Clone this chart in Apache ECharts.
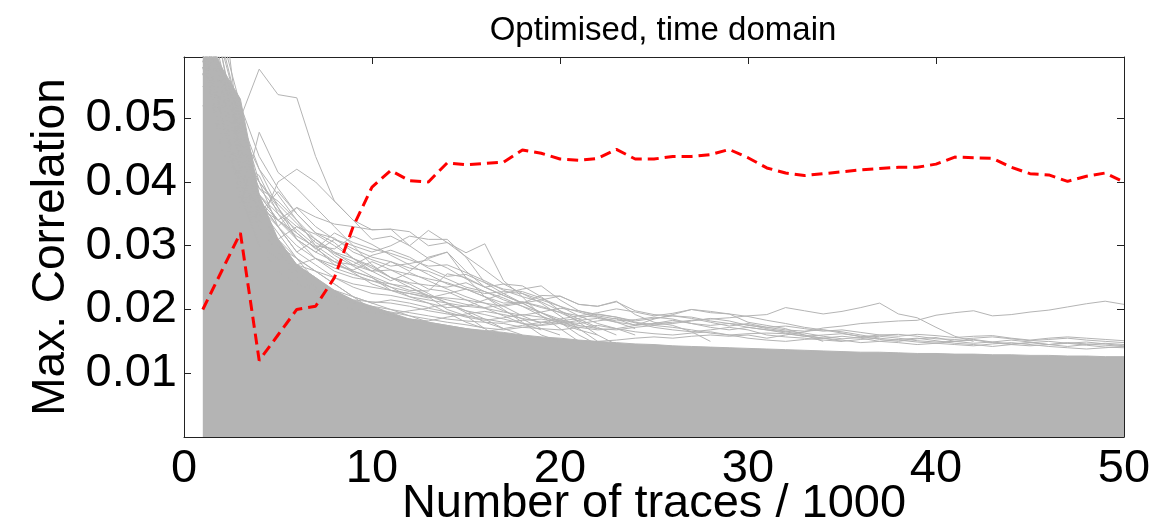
<!DOCTYPE html>
<html>
<head>
<meta charset="utf-8">
<script src="https://cdn.jsdelivr.net/npm/echarts@6/dist/echarts.min.js"></script>
<style>
html,body{margin:0;padding:0;background:#fff;}
#chart{width:1170px;height:530px;}
</style>
</head>
<body>
<div id="chart"></div>
<script>
// x positions: number of traces / 1000
const traceK = [1,2,3,4,5,6,7,8,9,10,11,12,13,14,15,16,17,18,19,20,21,22,23,24,25,26,27,28,29,30,31,32,33,34,35,36,37,38,39,40,41,42,43,44,45,46,47,48,49,50];

// correct key hypothesis (red dashed)
const correctKey = [0.020,0.026,0.032,0.012,0.016,0.020,0.0205,0.025,0.033,0.0392,
  0.0418,0.0402,0.0400,0.0430,0.0427,0.0429,0.0431,0.0450,0.0445,0.0436,
  0.0434,0.0437,0.0451,0.0436,0.0436,0.0440,0.0440,0.0443,0.0451,0.0438,
  0.0422,0.0414,0.0410,0.0413,0.0416,0.0419,0.0421,0.0423,0.0423,0.0428,
  0.0439,0.0438,0.0437,0.0423,0.0413,0.0411,0.0401,0.0409,0.0414,0.0400];

// upper edge of the dense (solid) mass of wrong-key traces
const denseCore = [0.065,0.058,0.053,0.038,0.031,0.027,0.025,0.023,0.0215,0.0205,
  0.0195,0.0185,0.018,0.0175,0.017,0.0167,0.0164,0.016,0.0157,0.0155,
  0.0152,0.015,0.0148,0.0146,0.0145,0.0143,0.0142,0.0141,0.014,0.0139,
  0.0138,0.0137,0.0136,0.0135,0.0134,0.0133,0.0133,0.0132,0.0131,0.0131,
  0.013,0.013,0.0129,0.0129,0.0128,0.0128,0.0127,0.0127,0.0126,0.0126];

// individual wrong-key traces (values from x = 1 onward)
const wkA = [0.075,0.062,0.050,0.0577,0.0537,0.0532,0.044,0.037,0.034,0.031,0.0315,0.030,0.028,0.029,0.025,0.022,0.020,0.018,0.016,0.015];
const wkB = [0.07,0.055,0.036,0.0478,0.0415,0.039,0.036,0.033,0.030,0.027,0.025,0.0235,0.022,0.020,0.019,0.017,0.015];
const wkC = [0.065,0.05,0.038,0.033,0.040,0.042,0.040,0.037,0.034,0.0325,0.0326,0.030,0.0324,0.0305,0.0289,0.0303,0.0245,0.022,0.019,0.017,0.015];
const wkE = [0.06,0.045,0.040,0.036,0.034,0.036,0.0345,0.0334,0.033,0.0325,0.0326,0.0322,0.030,0.0305,0.0283,0.0262,0.024,0.0225,0.021,0.019,0.017,0.015];
const wkF = [0.058,0.048,0.044,0.038,0.035,0.031,0.029,0.031,0.030,0.029,0.030,0.0315,0.0310,0.031,0.0282,0.0242,0.0225,0.021,0.0195,0.018,0.016,0.0145];
const wkG = [0.055,0.05,0.042,0.035,0.031,0.033,0.031,0.029,0.027,0.026,0.0275,0.026,0.0282,0.029,0.026,0.0235,0.024,0.0237,0.022,0.0198,0.018,0.016,0.0145];
const wkH = [0.052,0.046,0.039,0.032,0.030,0.027,0.028,0.026,0.025,0.0245,0.024,0.023,0.0229,0.0256,0.025,0.0235,0.0222,0.021,0.0222,0.0221,0.0208,0.0205,0.0213,0.0192,0.018,0.0175,0.0165,0.015];
const wkI = [0.057,0.047,0.041,0.037,0.033,0.030,0.028,0.027,0.026,0.025,0.023,0.022,0.0215,0.021,0.0205,0.0215,0.0225,0.0232,0.0237,0.0215,0.0198,0.019,0.0185,0.0175,0.0185,0.0192,0.020,0.0195,0.0193,0.018,0.0175,0.017,0.016,0.015];
const wkT = [0.06,0.05,0.04,0.03,0.026,0.024,0.023,0.022,0.021,0.020,0.019,0.0185,0.018,0.0175,0.017,0.0165,0.017,0.0175,0.018,0.0178,
  0.0172,0.0168,0.017,0.0175,0.0178,0.018,0.0183,0.0185,0.0187,0.019,0.0192,0.0203,0.0198,0.0193,0.0197,0.0203,0.021,0.0193,0.0187,0.0172,0.0158,0.015];
const wkR = [0.058,0.046,0.037,0.029,0.025,0.022,0.02,0.019,0.018,0.0172,0.0168,0.0164,0.016,0.0158,0.0155,0.0153,0.015,0.0148,0.0147,0.0146,
  0.0148,0.015,0.0152,0.0155,0.0157,0.0155,0.0158,0.016,0.0158,0.016,0.0155,0.016,0.0165,0.0171,0.0174,0.0178,0.018,0.0182,0.0183,0.0191,
  0.0195,0.0198,0.019,0.0192,0.0196,0.0199,0.0204,0.0209,0.0213,0.0208];
const wkM1 = [0.06,0.05,0.04,0.033,0.029,0.027,0.026,0.025,0.024,0.0235,0.023,0.0225,0.022,0.0218,0.0215,0.021,0.0205,0.021,0.0215,0.0221,
  0.0208,0.0205,0.0212,0.0198,0.0192,0.019,0.0188,0.0182,0.0178,0.0172,0.0168,0.0165,0.016,0.0155,0.015];
const wkM2 = [0.063,0.054,0.045,0.038,0.034,0.031,0.028,0.0265,0.0255,0.0245,0.0235,0.0228,0.0222,0.0215,0.0208,0.0203,0.0207,0.0212,0.0203,0.0196,
  0.019,0.0195,0.0201,0.0196,0.019,0.0194,0.02,0.0197,0.0193,0.0189,0.0183,0.0178,0.0172,0.0168,0.0165,0.016,0.0155];
const wkN1 = [0.07,0.058,0.045,0.039,0.037,0.034,0.031,0.029,0.028,0.0265,0.025,0.024,0.0225,0.021,0.0195,0.018,0.017,0.016];
const wkN2 = [0.066,0.05,0.041,0.035,0.0385,0.035,0.032,0.0305,0.028,0.026,0.0245,0.0258,0.0245,0.0232,0.022,0.021,0.0198,0.0185,0.017,0.016];
const wkN3 = [0.06,0.047,0.04,0.036,0.033,0.036,0.033,0.031,0.0295,0.0282,0.0275,0.0265,0.026,0.0248,0.0235,0.0228,0.0218,0.0205,0.019,0.0178,0.0168,0.016];
const wkN4 = [0.068,0.06,0.046,0.04,0.036,0.032,0.0295,0.032,0.0305,0.0295,0.0288,0.0278,0.0268,0.027,0.0258,0.0245,0.023,0.022,0.0212,0.0198,0.0185,0.0172,0.016];
const wkN5 = [0.072,0.061,0.05,0.042,0.036,0.031,0.029,0.0275,0.027,0.0285,0.0293,0.0282,0.0265,0.0252,0.0255,0.0242,0.0232,0.0228,0.0218,0.0205,0.019,0.0178,0.017,0.016];
const wkN6 = [0.08,0.07,0.046,0.035,0.031,0.028,0.026,0.024,0.022,0.021,0.02,0.019,0.018];
const wkP1 = [0.07,0.055,0.048,0.042,0.038,0.034,0.03,0.028,0.026,0.025,0.0235,0.022,0.021,0.0195,0.018,0.017];
const wkP2 = [0.062,0.058,0.05,0.04,0.033,0.029,0.031,0.0285,0.0268,0.0252,0.024,0.0235,0.0222,0.021,0.0198,0.0185,0.017];
const wkP3 = [0.066,0.052,0.047,0.038,0.034,0.0315,0.0298,0.027,0.0262,0.0275,0.0262,0.0248,0.0232,0.0228,0.0215,0.0202,0.019,0.0178,0.0168];
const wkP4 = [0.059,0.051,0.043,0.041,0.035,0.0325,0.03,0.0295,0.0315,0.0302,0.0285,0.027,0.0255,0.024,0.0232,0.022,0.0205,0.019,0.0178];
const wkP5 = [0.075,0.063,0.052,0.044,0.039,0.035,0.032,0.0312,0.029,0.0278,0.0268,0.0272,0.0278,0.0265,0.0248,0.0235,0.0222,0.021,0.0195,0.0182,0.017];
const wkP6 = [0.064,0.057,0.046,0.039,0.0355,0.033,0.0318,0.03,0.028,0.0268,0.025,0.0242,0.0238,0.0235,0.0242,0.0228,0.0215,0.0205,0.0195,0.0185,0.0175];
const wkP7 = [0.061,0.056,0.049,0.037,0.034,0.032,0.0296,0.0275,0.0258,0.024,0.023,0.0225,0.0218,0.0225,0.0232,0.022,0.021,0.0212,0.0205,0.0195,0.0182,0.017];
const wkP8 = [0.07,0.06,0.044,0.04,0.0365,0.0335,0.0305,0.0288,0.0275,0.026,0.0262,0.0255,0.0248,0.0242,0.0232,0.0225,0.0228,0.0225,0.0215,0.0205,0.0196,0.0188,0.018,0.017];
const wkB1 = [0.06,0.05,0.042,0.033,0.029,0.026,0.0235,0.022,0.021,0.0205,0.020,0.0195,0.019,0.0185,0.0182,0.018,0.0178,0.0172,0.017,0.0168,
  0.0172,0.0175,0.017,0.0165,0.0162,0.016,0.0163,0.0165,0.016,0.0155,0.0152,0.015,0.0153,0.0155,0.0158,0.0155,0.015,0.0148,0.0145,0.0147,
  0.015,0.0152,0.0148,0.0145,0.0143,0.0145,0.0148,0.0146,0.0144,0.0142];
const wkB2 = [0.058,0.053,0.04,0.035,0.031,0.027,0.025,0.0225,0.0215,0.0212,0.021,0.0205,0.0198,0.0193,0.019,0.0185,0.018,0.0183,0.0185,0.018,
  0.0175,0.017,0.0168,0.0172,0.0175,0.0172,0.0168,0.0163,0.016,0.0162,0.0163,0.0162,0.0158,0.0155,0.0152,0.0148,0.015,0.0153,0.0155,0.0151,
  0.0147,0.0145,0.0142,0.0145,0.0148,0.0145,0.0142,0.0145,0.0147,0.0145];
const wkB3 = [0.062,0.05,0.038,0.03,0.028,0.025,0.023,0.021,0.02,0.0195,0.0193,0.0198,0.0202,0.0196,0.0188,0.0183,0.0187,0.0192,0.0188,0.0182,
  0.0178,0.0182,0.0186,0.0179,0.0172,0.0168,0.0165,0.0168,0.0172,0.0168,0.016,0.0157,0.0155,0.0152,0.015,0.0153,0.0155,0.0152,0.0149,0.0147,
  0.0145,0.0143,0.0146,0.0148,0.0145,0.0142,0.014,0.0138,0.014,0.0142];
const wkB4 = [0.064,0.055,0.043,0.034,0.03,0.028,0.026,0.024,0.022,0.021,0.0215,0.021,0.0203,0.0208,0.0198,0.0192,0.0185,0.0178,0.0175,0.0178,
  0.0183,0.0186,0.018,0.0176,0.0178,0.0183,0.0178,0.0172,0.0168,0.0172,0.0168,0.0163,0.0158,0.016,0.0162,0.0158,0.0153,0.015,0.0154,0.0156,
  0.015,0.0147,0.0149,0.0152,0.0149,0.0145,0.0147,0.0149,0.0146,0.0143];
const wkB5 = [0.057,0.049,0.041,0.036,0.032,0.028,0.0245,0.0225,0.021,0.02,0.019,0.0185,0.0182,0.0188,0.0193,0.0197,0.0192,0.0186,0.018,0.0185,
  0.019,0.0188,0.0182,0.0184,0.0188,0.0185,0.0178,0.0175,0.0178,0.0176,0.017,0.0166,0.0163,0.0158,0.0154,0.0156,0.0158,0.0155,0.0151,0.0149,
  0.015,0.0153,0.0149,0.0146,0.0148,0.015,0.0147,0.0144,0.0141,0.014];
const wkB6 = [0.061,0.052,0.044,0.037,0.033,0.029,0.027,0.025,0.0235,0.0225,0.0222,0.0216,0.021,0.0203,0.0205,0.0202,0.0196,0.0191,0.0196,0.0202,
  0.0198,0.0192,0.0188,0.0182,0.0186,0.019,0.0186,0.018,0.0174,0.0178,0.0172,0.0168,0.0166,0.0168,0.0163,0.0157,0.016,0.0161,0.0158,0.0154,
  0.0153,0.0155,0.0157,0.0154,0.0151,0.0153,0.0155,0.0152,0.015,0.0148];
const wkB7 = [0.059,0.05,0.039,0.031,0.027,0.025,0.024,0.023,0.022,0.02,0.0196,0.019,0.0185,0.018,0.0176,0.0171,0.0168,0.0172,0.0176,0.0182,
  0.0186,0.0193,0.0188,0.018,0.0176,0.0178,0.0182,0.0186,0.0182,0.0175,0.0172,0.0174,0.017,0.0166,0.0168,0.0164,0.016,0.0158,0.0161,0.0159,
  0.0156,0.0158,0.0159,0.0155,0.0152,0.0155,0.0157,0.0155,0.0153,0.0151];

const wrongKeyTraces = [wkB1,wkB2,wkB3,wkB4,wkB5,wkB6,wkB7,wkR,wkT,wkM1,wkM2,wkI,wkH,wkG,wkF,wkE,wkC,wkB,wkA,
  wkN1,wkN2,wkN3,wkN4,wkN5,wkN6,wkP1,wkP2,wkP3,wkP4,wkP5,wkP6,wkP7,wkP8];

const xTickLabels = ['0','10','20','30','40','50'];
const yTickLabels = ['0.01','0.02','0.03','0.04','0.05'];

const GRAY = '#b4b4b4';
const FONT = "'Liberation Sans', Arial, Helvetica, sans-serif";
const pair = arr => arr.map((v, i) => [traceK[i], v]);

const series = [];
series.push({
  type: 'line', data: pair(denseCore), symbol: 'none', silent: true,
  lineStyle: { color: GRAY, width: 1 }, areaStyle: { color: GRAY, opacity: 1 },
  z: 1, animation: false
});
wrongKeyTraces.forEach(tr => series.push({
  type: 'line', data: pair(tr), symbol: 'none', silent: true,
  lineStyle: { color: GRAY, width: 1 }, z: 2, animation: false
}));
series.push({
  type: 'line', data: pair(correctKey), symbol: 'none', silent: true,
  lineStyle: { color: '#ff0000', width: 3, type: [11, 6] }, z: 5, animation: false
});

const labelFmt = v => {
  const k = Math.round(v * 100);
  if (k < 1 || Math.abs(v * 100 - k) > 1e-6) return '';
  return yTickLabels[k - 1] || '';
};
const xFmt = v => {
  const k = Math.round(v / 10);
  if (Math.abs(v / 10 - k) > 1e-6) return '';
  return xTickLabels[k] || '';
};

const axisLine = { show: true, onZero: false, lineStyle: { color: '#222', width: 1 } };
const tick = { show: true, inside: true, length: 7, lineStyle: { color: '#222', width: 1 } };

const chart = echarts.init(document.getElementById('chart'), null, { renderer: 'canvas' });
chart.setOption({
  animation: false,
  backgroundColor: '#fff',
  title: {
    text: 'Optimised, time domain', left: 658, top: 9, textAlign: 'center',
    textStyle: { fontFamily: FONT, fontSize: 33, fontWeight: 'normal', color: '#000' }
  },
  grid: { left: 184, right: 46, top: 57, bottom: 93, containLabel: false, outerBoundsMode: 'none' },
  xAxis: [{
    type: 'value', min: 0, max: 50, interval: 10, position: 'bottom',
    axisLine, axisTick: tick, splitLine: { show: false },
    axisLabel: { formatter: xFmt, fontFamily: FONT, fontSize: 47, color: '#000', margin: 9 },
    name: 'Number of traces / 1000', nameLocation: 'middle', nameGap: 44, nameMoveOverlap: false,
    nameTextStyle: { fontFamily: FONT, fontSize: 47, color: '#000' }
  }, {
    type: 'value', min: 0, max: 50, interval: 10, position: 'top',
    axisLine, axisTick: tick, axisLabel: { show: false }, splitLine: { show: false }
  }],
  yAxis: [{
    type: 'value', min: 0, max: 0.0596, interval: 0.01, position: 'left',
    axisLine, axisTick: tick, splitLine: { show: false },
    axisLabel: { formatter: labelFmt, fontFamily: FONT, fontSize: 47, color: '#000', margin: 7 },
    name: 'Max. Correlation', nameLocation: 'middle', nameGap: 110, nameMoveOverlap: false,
    nameTextStyle: { fontFamily: FONT, fontSize: 46, color: '#000' }
  }, {
    type: 'value', min: 0, max: 0.0596, interval: 0.01, position: 'right',
    axisLine, axisTick: tick, axisLabel: { show: false }, splitLine: { show: false }
  }],
  series
});
</script>
</body>
</html>
